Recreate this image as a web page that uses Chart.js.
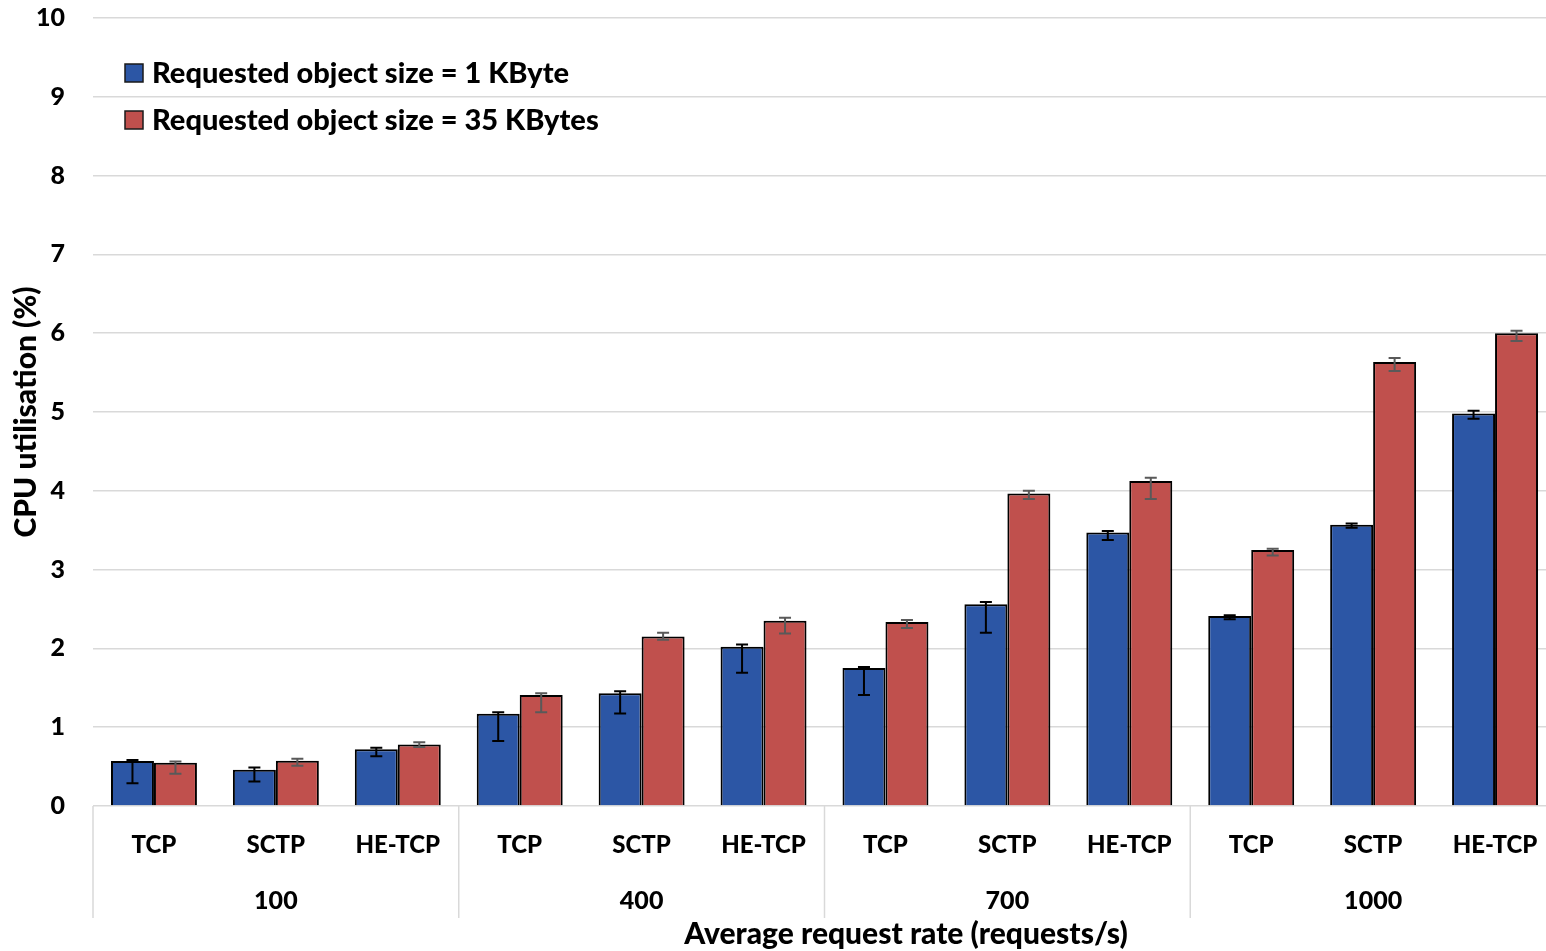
<!DOCTYPE html>
<html>
<head>
<meta charset="utf-8">
<script src="https://cdn.jsdelivr.net/npm/chart.js@4/dist/chart.umd.min.js"></script>
<style>
  html, body { margin: 0; padding: 0; background: #ffffff; overflow: hidden; }
  /* the plot area runs slightly past the right edge of the visible frame */
  #wrap { width: 1546px; height: 951px; overflow: hidden; }
  #cpu { display: block; }
</style>
</head>
<body>
<div id="wrap"><canvas id="cpu" width="1556" height="951"></canvas></div>
<script>
// Transport protocol under test, repeated for each request rate
const protocols = ['TCP', 'SCTP', 'HE-TCP', 'TCP', 'SCTP', 'HE-TCP', 'TCP', 'SCTP', 'HE-TCP', 'TCP', 'SCTP', 'HE-TCP'];
// Average request rates (requests/s), one per group of three protocols
const requestRates = ['100', '400', '700', '1000'];
const yTicks = [0, 1, 2, 3, 4, 5, 6, 7, 8, 9, 10];

// CPU utilisation (%) with 1 KByte objects
const cpu1KB = [0.57, 0.46, 0.72, 1.17, 1.43, 2.02, 1.75, 2.56, 3.47, 2.41, 3.57, 4.98];
const cpu1KBErrUp = [0.015, 0.03, 0.02, 0.02, 0.025, 0.03, 0.015, 0.03, 0.02, 0.01, 0.015, 0.035];
const cpu1KBErrDown = [0.28, 0.15, 0.09, 0.345, 0.255, 0.33, 0.34, 0.36, 0.095, 0.04, 0.04, 0.065];

// CPU utilisation (%) with 35 KByte objects
const cpu35KB = [0.55, 0.575, 0.78, 1.41, 2.15, 2.35, 2.335, 3.965, 4.125, 3.25, 5.635, 6.0];
const cpu35KBErrUp = [0.015, 0.025, 0.03, 0.02, 0.05, 0.04, 0.025, 0.035, 0.04, 0.015, 0.05, 0.03];
const cpu35KBErrDown = [0.14, 0.065, 0.03, 0.22, 0.04, 0.16, 0.075, 0.07, 0.23, 0.07, 0.115, 0.10];

const FONT = 'Lato, "Liberation Sans", sans-serif';
const WEIGHT = '900';
const GRID = '#d9d9d9';

// Error bars drawn through the value scale for every bar
const errorBarPlugin = {
  id: 'errorBars',
  afterDatasetsDraw(chart) {
    const ctx = chart.ctx;
    const yScale = chart.scales.y;
    chart.data.datasets.forEach((ds, di) => {
      const meta = chart.getDatasetMeta(di);
      ctx.save();
      ctx.strokeStyle = ds.errorColor;
      ctx.lineWidth = 2;
      meta.data.forEach((bar, j) => {
        const v = ds.data[j];
        const yHi = yScale.getPixelForValue(v + ds.errUp[j]);
        const yLo = yScale.getPixelForValue(v - ds.errDown[j]);
        const x = bar.x;
        const cap = 6;
        ctx.beginPath();
        ctx.moveTo(x, yHi); ctx.lineTo(x, yLo);
        ctx.moveTo(x - cap, yHi); ctx.lineTo(x + cap, yHi);
        ctx.moveTo(x - cap, yLo); ctx.lineTo(x + cap, yLo);
        ctx.stroke();
      });
      ctx.restore();
    });
  }
};

// Group separators below the axis, legend inside the plot, and the x-axis title
const decorPlugin = {
  id: 'decor',
  afterDraw(chart) {
    const ctx = chart.ctx;
    const x = chart.scales.x;
    const area = chart.chartArea;
    const half = (x.getPixelForValue(1) - x.getPixelForValue(0)) / 2;
    const per = protocols.length / requestRates.length;
    ctx.save();
    ctx.strokeStyle = GRID;
    ctx.lineWidth = 1.5;
    for (let g = 0; g <= requestRates.length; g++) {
      const idx = Math.min(g * per, protocols.length - 1);
      const px = g * per < protocols.length ? x.getPixelForValue(idx) - half : x.getPixelForValue(idx) + half;
      ctx.beginPath();
      ctx.moveTo(px, area.bottom);
      ctx.lineTo(px, 918);
      ctx.stroke();
    }
    ctx.restore();

    // legend
    ctx.save();
    ctx.font = WEIGHT + ' 29px ' + FONT;
    ctx.textBaseline = 'middle';
    ctx.textAlign = 'left';
    chart.data.datasets.forEach((ds, i) => {
      const cy = 73 + i * 47;
      ctx.fillStyle = ds.backgroundColor;
      ctx.fillRect(125, cy - 9, 18, 18);
      ctx.strokeStyle = '#1a1a1a';
      ctx.lineWidth = 1.5;
      ctx.strokeRect(125, cy - 9, 18, 18);
      ctx.fillStyle = '#000000';
      ctx.fillText(ds.label, 152, cy + 1);
    });
    ctx.restore();

    // x-axis title
    ctx.save();
    ctx.font = WEIGHT + ' 30px ' + FONT;
    ctx.fillStyle = '#000000';
    ctx.textAlign = 'center';
    ctx.textBaseline = 'middle';
    ctx.fillText('Average request rate (requests/s)', 906, 934);
    ctx.restore();
  }
};

new Chart(document.getElementById('cpu'), {
  type: 'bar',
  data: {
    labels: protocols,
    datasets: [
      {
        label: 'Requested object size = 1 KByte',
        data: cpu1KB,
        errUp: cpu1KBErrUp,
        errDown: cpu1KBErrDown,
        errorColor: '#000000',
        backgroundColor: '#2c56a5',
        borderColor: '#000000',
        borderWidth: 2,
        xAxisID: 'x'
      },
      {
        label: 'Requested object size = 35 KBytes',
        data: cpu35KB,
        errUp: cpu35KBErrUp,
        errDown: cpu35KBErrDown,
        errorColor: '#595959',
        backgroundColor: '#c0504d',
        borderColor: '#000000',
        borderWidth: 2,
        xAxisID: 'x'
      }
    ]
  },
  options: {
    responsive: false,
    animation: false,
    devicePixelRatio: 1,
    layout: { padding: { top: 18, right: 0, left: 0, bottom: 0 } },
    plugins: {
      legend: { display: false },
      tooltip: { enabled: false }
    },
    datasets: {
      bar: { categoryPercentage: 0.705, barPercentage: 1.0 }
    },
    scales: {
      y: {
        min: 0,
        max: 10,
        afterBuildTicks: s => { s.ticks = yTicks.map(v => ({ value: v })); },
        afterFit: s => { s.width = 93; s.paddingTop = 0; s.paddingBottom = 0; },
        ticks: {
          color: '#000000',
          font: { family: FONT, size: 25, weight: WEIGHT },
          padding: 28
        },
        grid: { color: GRID, lineWidth: 1.5, drawTicks: false },
        border: { display: false },
        title: {
          display: true,
          text: 'CPU utilisation (%)',
          color: '#000000',
          font: { family: FONT, size: 30, weight: WEIGHT },
          padding: { top: 8, bottom: 0 }
        }
      },
      x: {
        type: 'category',
        labels: protocols,
        offset: true,
        afterFit: s => { s.height = 60; s.paddingLeft = 0; s.paddingRight = 0; },
        grid: { display: false },
        border: { display: false },
        ticks: {
          color: '#000000',
          font: { family: FONT, size: 24, weight: WEIGHT },
          padding: 17,
          maxRotation: 0,
          autoSkip: false
        }
      },
      x2: {
        type: 'category',
        labels: requestRates,
        position: 'bottom',
        offset: true,
        afterFit: s => { s.height = 951 - 18 - 788 - 60; s.paddingLeft = 0; s.paddingRight = 0; },
        grid: { display: false },
        border: { display: false },
        ticks: {
          color: '#000000',
          font: { family: FONT, size: 25, weight: WEIGHT },
          padding: 12,
          maxRotation: 0,
          autoSkip: false
        }
      }
    }
  },
  plugins: [errorBarPlugin, decorPlugin]
});
</script>
</body>
</html>
